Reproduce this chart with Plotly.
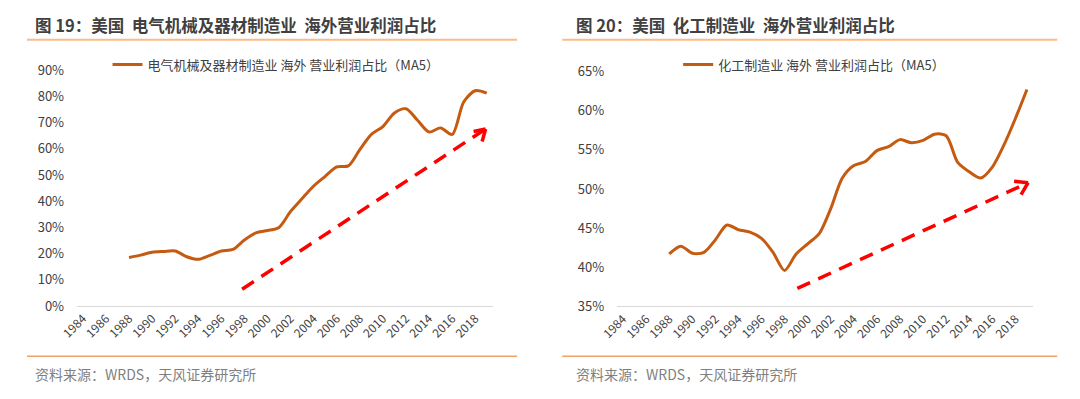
import plotly.graph_objects as go

years_left = list(range(1988, 2020))
elec_share = [18.5, 19.4, 20.5, 20.8, 21.0, 18.8, 17.8, 19.3, 21.0, 21.6, 25.2, 27.9, 28.8, 30.0,
              36.1, 41.0, 45.8, 49.5, 53.1, 53.5, 59.7, 65.5, 68.5, 73.7, 75.3, 70.9, 66.4, 68.0,
              65.5, 77.9, 82.2, 81.3]

years_right = list(range(1988, 2020))
chem_share = [41.7, 42.7, 41.8, 41.9, 43.5, 45.4, 44.8, 44.5, 43.7, 41.9, 39.6, 41.7, 43.0, 44.3,
              47.5, 51.4, 53.0, 53.5, 54.9, 55.4, 56.3, 55.9, 56.2, 57.0, 56.8, 53.4, 52.2, 51.4,
              52.8, 55.6, 59.0, 62.7]

tick_years = list(range(1984, 2019, 2))
left_yticks = [0, 10, 20, 30, 40, 50, 60, 70, 80, 90]
right_yticks = [35, 40, 45, 50, 55, 60, 65]

arrow_left = {"x0": 1997.8, "y0": 6.4, "x1": 2018.9, "y1": 67.6}
arrow_right = {"x0": 1999.1, "y0": 37.3, "x1": 2019.1, "y1": 50.8}

title_left = "图 19：美国  电气机械及器材制造业  海外营业利润占比"
title_right = "图 20：美国  化工制造业  海外营业利润占比"
name_left = "电气机械及器材制造业 海外 营业利润占比（MA5）"
name_right = "化工制造业 海外 营业利润占比（MA5）"
source_text = "资料来源：WRDS，天风证券研究所"

PAGE_W, PAGE_H = 1080, 399
OFF = 8  # default body margin of the page
W, H = PAGE_W - 2 * OFF, PAGE_H - 2 * OFF
FONT = "Noto Sans CJK SC"
LINE_COLOR = "#C55A11"

fig = go.Figure()
fig.add_trace(go.Scatter(x=years_left, y=elec_share, mode="lines", name=name_left,
                         line=dict(color=LINE_COLOR, width=3, shape="spline", smoothing=0.8),
                         xaxis="x", yaxis="y", legend="legend", hoverinfo="skip"))
fig.add_trace(go.Scatter(x=years_right, y=chem_share, mode="lines", name=name_right,
                         line=dict(color=LINE_COLOR, width=3, shape="spline", smoothing=0.8),
                         xaxis="x2", yaxis="y2", legend="legend2", hoverinfo="skip"))

def px_x(p):
    return (p - OFF) / W

def px_y(p):
    return 1 - (p - OFF) / H

xcommon = dict(range=[1983.5, 2019.5], tickmode="array", tickvals=tick_years,
               ticktext=[str(t) for t in tick_years], tickangle=-45,
               showgrid=False, zeroline=False, showline=True, linecolor="#D9D9D9", linewidth=1,
               ticks="", tickfont=dict(family=FONT, size=12, color="#404040"), fixedrange=True)
ycommon = dict(showgrid=False, zeroline=False, showline=False, ticks="", tickmode="array",
               tickfont=dict(family=FONT, size=13, color="#404040"), ticklabelstandoff=12,
               fixedrange=True)

fig.update_layout(
    width=W, height=H, margin=dict(l=0, r=0, t=0, b=0),
    paper_bgcolor="white", plot_bgcolor="white",
    font=dict(family=FONT),
    xaxis=dict(domain=[px_x(59), px_x(482)], anchor="y", **xcommon),
    yaxis=dict(domain=[px_y(311), px_y(63)], anchor="x", range=[0, 90],
               tickvals=left_yticks, ticktext=[f"{v}%" for v in left_yticks], **ycommon),
    xaxis2=dict(domain=[px_x(609), px_x(1032)], anchor="y2", **xcommon),
    yaxis2=dict(domain=[px_y(311.5), px_y(64.3)], anchor="x2", range=[35, 65],
                tickvals=right_yticks, ticktext=[f"{v}%" for v in right_yticks], **ycommon),
    legend=dict(x=px_x(90), y=px_y(57), xanchor="left", yanchor="middle",
                bgcolor="rgba(0,0,0,0)", font=dict(family=FONT, size=13, color="#404040"),
                itemwidth=30),
    legend2=dict(x=px_x(671), y=px_y(57), xanchor="left", yanchor="middle",
                 bgcolor="rgba(0,0,0,0)", font=dict(family=FONT, size=13, color="#404040"),
                 itemwidth=30),
    showlegend=True,
)

shapes = []
for (a, b) in [(OFF, 507), (553, 1057)]:
    shapes.append(dict(type="line", xref="paper", yref="paper", x0=px_x(a), x1=px_x(b),
                       y0=px_y(31), y1=px_y(31), line=dict(color="#F8BC86", width=2)))
    shapes.append(dict(type="line", xref="paper", yref="paper", x0=px_x(a), x1=px_x(b),
                       y0=px_y(364), y1=px_y(364), line=dict(color="#F0A265", width=1.5)))

heads = [
    (arrow_left, "x", "y", [(-12, -2.5), (-3.5, -12.5)]),
    (arrow_right, "x2", "y2", [(-14, 1.5), (-7, -12)]),
]
for arr, xr, yr, arms in heads:
    shapes.append(dict(type="line", xref=xr, yref=yr, x0=arr["x0"], y0=arr["y0"],
                       x1=arr["x1"], y1=arr["y1"],
                       line=dict(color="#FF0000", width=3.5, dash="14px,9px")))
    for dx, dy in arms:
        shapes.append(dict(type="line", xref=xr, yref=yr, xsizemode="pixel", ysizemode="pixel",
                           xanchor=arr["x1"], yanchor=arr["y1"], x0=0, y0=0, x1=dx, y1=dy,
                           line=dict(color="#FF0000", width=3.5)))
fig.update_layout(shapes=shapes)

for text, xx in [(title_left, 14), (title_right, 565)]:
    fig.add_annotation(text="<b>" + text + "</b>", x=px_x(xx), y=px_y(15), xref="paper", yref="paper",
                       xanchor="left", yanchor="middle", showarrow=False,
                       font=dict(family=FONT, size=16.5, color="#404040"))
for xx in [14, 565]:
    fig.add_annotation(text=source_text, x=px_x(xx), y=px_y(383), xref="paper", yref="paper",
                       xanchor="left", yanchor="middle", showarrow=False,
                       font=dict(family=FONT, size=14, color="#7F7F7F"))

fig.write_html("out.html", config={"displayModeBar": False})
